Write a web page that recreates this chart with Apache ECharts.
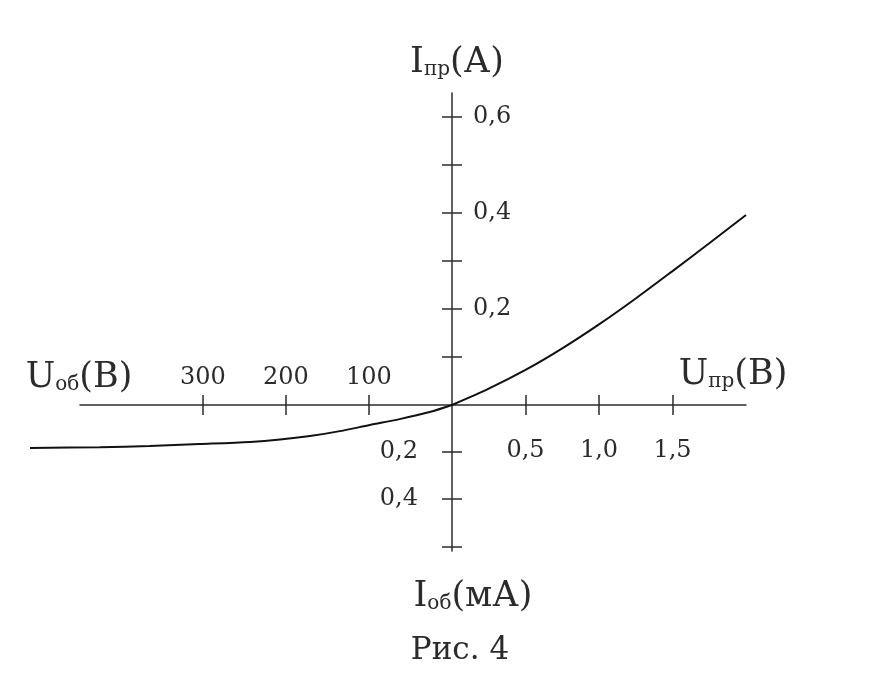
<!DOCTYPE html>
<html><head><meta charset="utf-8">
<script src="https://cdn.jsdelivr.net/npm/echarts@6/dist/echarts.min.js"></script>
<style>html,body{margin:0;padding:0;background:#fff}#c{width:872px;height:675px}</style>
</head><body><div id="c"></div><script>
// Forward branch: U_пр (В) vs I_пр (А)
const fwdVoltage = [0, 0.25, 0.5, 0.75, 1.0, 1.25, 1.5, 1.75, 2.0];
const fwdCurrent = [0, 0.034, 0.073, 0.118, 0.168, 0.222, 0.279, 0.337, 0.396];
// Reverse branch: U_об (В) vs I_об (мА)
const revVoltage = [0, 27, 63, 99, 135, 171, 207, 243, 304, 364, 424, 508];
const revCurrent = [0, 0.030, 0.060, 0.085, 0.111, 0.132, 0.147, 0.157, 0.166, 0.174, 0.179, 0.183];
// Ticks and labels
const fwdVTicks = [0.5, 1.0, 1.5];
const fwdITicks = [0.1, 0.2, 0.3, 0.4, 0.5, 0.6];
const fwdILabels = [0.2, 0.4, 0.6];
const revVTicks = [100, 200, 300];
const revITicks = [0.2, 0.4, 0.6];
const revILabels = [0.2, 0.4];
// Texts
const titleFwdI = ['I', 'пр', '(А)'];
const titleRevU = ['U', 'об', '(В)'];
const titleFwdU = ['U', 'пр', '(В)'];
const titleRevI = ['I', 'об', '(мА)'];
const caption = 'Рис. 4';

const FONT = 'DejaVu Serif';
const INK = '#2b2b2b';
const comma = v => Number(v).toFixed(1).replace('.', ',');
const lineSty = { color: INK, width: 1.5 };
const tickLen = 10;
const labelSty = { color: INK, fontFamily: FONT, fontSize: 24 };

function zip(a, b) { return a.map((v, i) => [v, b[i]]); }

const richStyle = {
  m: { fontFamily: FONT, fontSize: 35, color: INK, lineHeight: 40, verticalAlign: 'bottom' },
  s: { fontFamily: FONT, fontSize: 20, color: INK, lineHeight: 40, verticalAlign: 'bottom' }
};
function titleText(parts) { return '{m|' + parts[0] + '}{s|' + parts[1] + '}{m|' + parts[2] + '}'; }
function title(parts, x, y) {
  return { type: 'text', x: x, y: y, style: { text: titleText(parts), rich: richStyle, align: 'center', verticalAlign: 'middle', fill: INK, fontFamily: FONT, fontSize: 35 } };
}
const hiddenAxis = { axisLine: { show: false, onZero: false }, axisTick: { show: false }, axisLabel: { show: false }, splitLine: { show: false } };

const chart = echarts.init(document.getElementById('c'), null, { renderer: 'canvas' });
chart.setOption({
  animation: false,
  backgroundColor: '#fff',
  grid: [
    { left: 452, top: 93, width: 294, height: 312 },   // forward quadrant
    { left: 80, top: 405, width: 372, height: 146 },   // reverse quadrant axes
    { left: 30, top: 405, width: 422, height: 146 }    // reverse curve (same scale, wider)
  ],
  xAxis: [
    { gridIndex: 0, type: 'value', position: 'bottom', min: 0, max: 2.0,
      axisLine: { onZero: false, lineStyle: lineSty }, splitLine: { show: false },
      axisTick: { length: tickLen, customValues: fwdVTicks, lineStyle: lineSty },
      axisLabel: { customValues: fwdVTicks, formatter: comma, margin: 34, ...labelSty } },
    { gridIndex: 0, type: 'value', position: 'top', offset: -312, min: 0, max: 2.0,
      axisLine: { show: false, onZero: false }, splitLine: { show: false },
      axisTick: { length: tickLen, customValues: fwdVTicks, lineStyle: lineSty },
      axisLabel: { show: false } },
    { gridIndex: 1, type: 'value', position: 'top', inverse: true, min: 0, max: 448,
      axisLine: { onZero: false, lineStyle: lineSty }, splitLine: { show: false },
      axisTick: { length: tickLen, customValues: revVTicks, lineStyle: lineSty },
      axisLabel: { customValues: revVTicks, margin: 15, ...labelSty } },
    { gridIndex: 1, type: 'value', position: 'bottom', offset: -146, inverse: true, min: 0, max: 448,
      axisLine: { show: false, onZero: false }, splitLine: { show: false },
      axisTick: { length: tickLen, customValues: revVTicks, lineStyle: lineSty },
      axisLabel: { show: false } },
    { gridIndex: 2, type: 'value', position: 'top', inverse: true, min: 0, max: 508, ...hiddenAxis }
  ],
  yAxis: [
    { gridIndex: 0, type: 'value', position: 'left', min: 0, max: 0.65,
      axisLine: { onZero: false, lineStyle: lineSty }, splitLine: { show: false },
      axisTick: { length: tickLen, customValues: fwdITicks, lineStyle: lineSty },
      axisLabel: { inside: true, customValues: fwdILabels, formatter: comma, margin: 21, ...labelSty } },
    { gridIndex: 0, type: 'value', position: 'right', offset: -294, min: 0, max: 0.65,
      axisLine: { show: false, onZero: false }, splitLine: { show: false },
      axisTick: { length: tickLen, customValues: fwdITicks, lineStyle: lineSty },
      axisLabel: { show: false } },
    { gridIndex: 1, type: 'value', position: 'right', inverse: true, min: 0, max: 0.62,
      axisLine: { onZero: false, lineStyle: lineSty }, splitLine: { show: false },
      axisTick: { length: tickLen, customValues: revITicks, lineStyle: lineSty },
      axisLabel: { inside: true, customValues: revILabels, formatter: comma, margin: 34, ...labelSty } },
    { gridIndex: 1, type: 'value', position: 'left', offset: -372, inverse: true, min: 0, max: 0.62,
      axisLine: { show: false, onZero: false }, splitLine: { show: false },
      axisTick: { length: tickLen, customValues: revITicks, lineStyle: lineSty },
      axisLabel: { show: false } },
    { gridIndex: 2, type: 'value', position: 'right', inverse: true, min: 0, max: 0.62, ...hiddenAxis }
  ],
  series: [
    { type: 'line', xAxisIndex: 0, yAxisIndex: 0, data: zip(fwdVoltage, fwdCurrent),
      smooth: 0.3, showSymbol: false, symbol: 'none', clip: false,
      lineStyle: { color: '#111', width: 2 } },
    { type: 'line', xAxisIndex: 4, yAxisIndex: 4, data: zip(revVoltage, revCurrent),
      smooth: 0.3, showSymbol: false, symbol: 'none', clip: false,
      lineStyle: { color: '#111', width: 2 } }
  ],
  graphic: [
    title(titleFwdI, 457, 60),
    title(titleRevU, 79, 375),
    title(titleFwdU, 733, 372),
    title(titleRevI, 473, 594),
    { type: 'text', x: 460, y: 651, style: { text: caption, align: 'center', verticalAlign: 'middle', fill: INK, fontFamily: FONT, fontSize: 31 } }
  ]
});
</script></body></html>
